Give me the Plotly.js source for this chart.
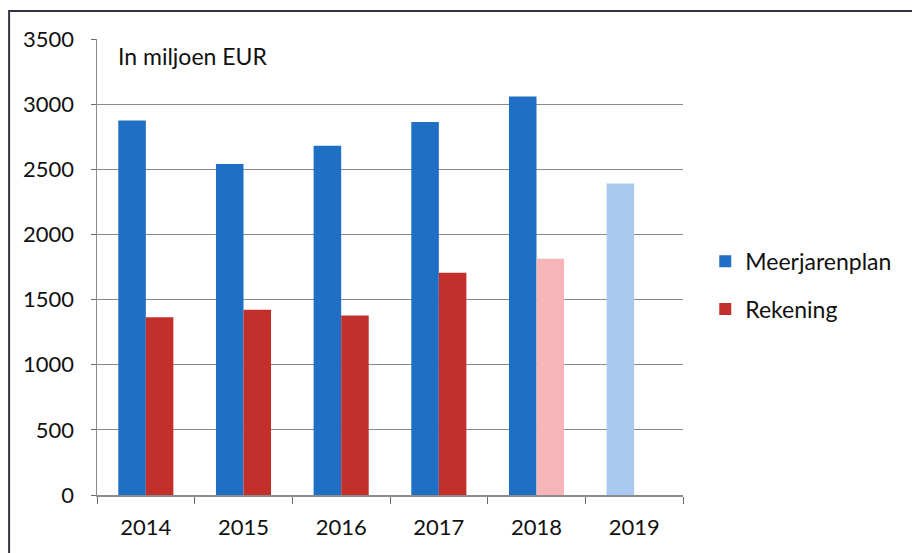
<!DOCTYPE html>
<html>
<head>
<meta charset="utf-8">
<script src="https://cdn.plot.ly/plotly-3.0.1.min.js"></script>
<style>html,body{margin:0;padding:0;background:#fff;}#chart{width:912px;height:553px;}</style>
</head>
<body>
<div id="chart"></div>
<script>
var years = ["2014", "2015", "2016", "2017", "2018", "2019"];
var meerjarenplan = [2875, 2540, 2680, 2862, 3058, 2390];
var rekening = [1365, 1422, 1378, 1705, 1813, null];
var meerjarenplanColors = ["#1f6fc4", "#1f6fc4", "#1f6fc4", "#1f6fc4", "#1f6fc4", "#a9c9f1"];
var rekeningColors = ["#c3302b", "#c3302b", "#c3302b", "#c3302b", "#f5b5b9", "#f5b5b9"];
var yTicks = [0, 500, 1000, 1500, 2000, 2500, 3000, 3500];

var font = "Lato, 'Open Sans', sans-serif";

var data = [
  {type: "bar", name: "Meerjarenplan", x: years, y: meerjarenplan,
   marker: {color: meerjarenplanColors}, legendgroup: "a", hoverinfo: "y"},
  {type: "bar", name: "Rekening", x: years, y: rekening,
   marker: {color: rekeningColors}, legendgroup: "b", hoverinfo: "y"}
];

var layout = {
  width: 912, height: 553,
  margin: {l: 97, r: 229, t: 39, b: 58},
  paper_bgcolor: "#ffffff", plot_bgcolor: "#ffffff",
  font: {family: font, size: 22, color: "#111111"},
  barmode: "group", bargap: 0.436, bargroupgap: 0,
  showlegend: true,
  legend: {x: 1.038, y: 0.46, xanchor: "left", yanchor: "middle",
    font: {family: font, size: 23, color: "#111111"},
    traceorder: "grouped", tracegroupgap: 15, itemwidth: 30, bgcolor: "rgba(0,0,0,0)"},
  xaxis: {type: "category", showline: true, linecolor: "#8c8c8c", linewidth: 1.5,
    ticks: "outside", tickson: "boundaries", ticklen: 7, tickcolor: "#6a6a6a",
    tickfont: {family: font, size: 22, color: "#111111"}, ticklabelstandoff: 12,
    showgrid: false, fixedrange: true},
  yaxis: {range: [0, 3500], tickvals: yTicks, ticktext: yTicks.map(String),
    showline: true, linecolor: "#8c8c8c", linewidth: 1.5,
    ticks: "outside", ticklen: 5, tickcolor: "#6a6a6a",
    showgrid: true, gridcolor: "#8a8a8a", gridwidth: 1.2, zeroline: false,
    tickfont: {family: font, size: 22, color: "#111111"}, ticklabelstandoff: 12,
    fixedrange: true},
  annotations: [{text: "In miljoen EUR", xref: "paper", yref: "paper",
    x: 0.033, y: 0.963, xanchor: "left", yanchor: "middle", showarrow: false,
    font: {family: font, size: 23, color: "#111111"}}],
  shapes: [{type: "rect", xref: "paper", yref: "paper",
    x0: -0.150, x1: 1.40, y0: -0.15, y1: 1.0614,
    line: {color: "#333344", width: 2}, fillcolor: "rgba(0,0,0,0)", layer: "below"}]
};

Plotly.newPlot("chart", data, layout, {displayModeBar: false, staticPlot: true});
</script>
</body>
</html>
